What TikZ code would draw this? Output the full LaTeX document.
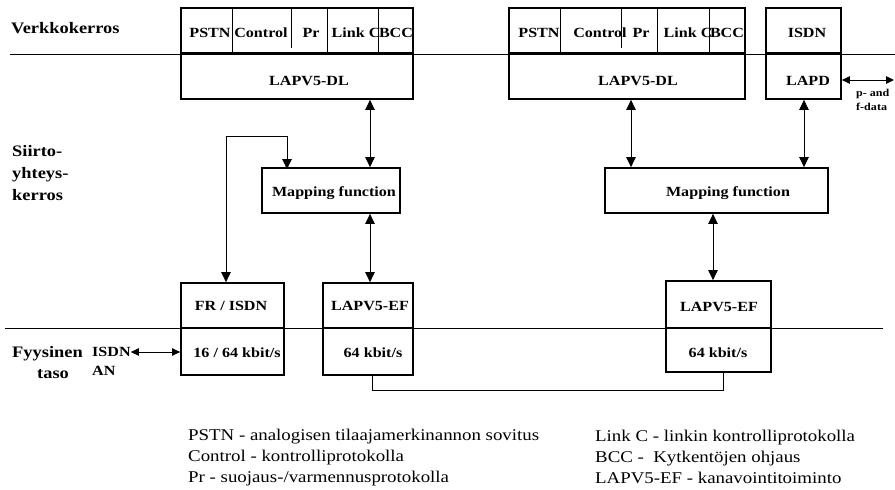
\documentclass[tikz,border=0pt]{standalone}
\usepackage{fontspec}
\setmainfont{Liberation Serif}[FakeStretch=1.15]
\usetikzlibrary{arrows.meta}
\begin{document}
\begin{tikzpicture}[x=1pt,y=-1pt,
  box/.style={draw, line width=1.8pt, inner sep=0pt, rectangle},
  lbl/.style={font=\bfseries\fontsize{14}{16}\selectfont, inner sep=0pt, anchor=base},
  side/.style={font=\bfseries\fontsize{16}{22}\selectfont, inner sep=0pt, anchor=base west},
  legend/.style={font=\fontsize{16.4}{21}\selectfont, inner sep=0pt, anchor=base west},
  dbl/.style={{Triangle[length=10pt,width=9.5pt]}-{Triangle[length=10pt,width=9.5pt]}, line width=0.9pt},
  sdbl/.style={{Triangle[length=8pt,width=7.5pt]}-{Triangle[length=8pt,width=7.5pt]}, line width=0.9pt},
  thinline/.style={line width=0.9pt}]
\useasboundingbox (0,0) rectangle (895,490);

% layer lines
\coordinate (l1a) at (10,54);
\coordinate (l1b) at (895,54);
\coordinate (l2a) at (5,328);
\coordinate (l2b) at (883,328);
\draw[thinline] (l1a) -- (l1b);
\draw[thinline] (l2a) -- (l2b);

% upper stacks
\node[box, minimum width=232pt, minimum height=45pt] (top1) at (297,30.5) {};
\node[box, minimum width=232pt, minimum height=46pt] (dl1) at (297,76) {};
\node[box, minimum width=236pt, minimum height=45pt] (top2) at (627,30.5) {};
\node[box, minimum width=236pt, minimum height=46pt] (dl2) at (627,76) {};
\node[box, minimum width=75pt, minimum height=45pt] (isdn) at (803.5,30.5) {};
\node[box, minimum width=75pt, minimum height=46pt] (lapd) at (803.5,76) {};

% cell dividers
\draw[thinline] (232,8) -- (232,53);
\draw[thinline] (291,8) -- (291,48);
\draw[thinline] (327,8) -- (327,53);
\draw[thinline] (378,8) -- (378,53);
\draw[thinline] (560,8) -- (560,53);
\draw[thinline] (621,8) -- (621,48);
\draw[thinline] (657,8) -- (657,53);
\draw[thinline] (709,8) -- (709,53);

% cell texts
\node[lbl] (c1a) at (210,37) {PSTN};
\node[lbl] (c1b) at (261,37) {Control};
\node[lbl] (c1c) at (311,37) {Pr};
\node[lbl] (c1d) at (356,37) {Link C};
\node[lbl] (c1e) at (396,37) {BCC};
\node[lbl] (c2a) at (539,37) {PSTN};
\node[lbl] (c2b) at (600,37) {Control};
\node[lbl] (c2c) at (641,37) {Pr};
\node[lbl] (c2d) at (688,37) {Link C};
\node[lbl] (c2e) at (727,37) {BCC};
\node[lbl] (c3a) at (807,37) {ISDN};
\node[lbl] (t_dl1) at (309,85) {LAPV5-DL};
\node[lbl] (t_dl2) at (638,85) {LAPV5-DL};
\node[lbl] (t_lapd) at (808,85) {LAPD};

% mapping functions
\node[box, minimum width=138pt, minimum height=45pt] (map1) at (331,190.5) {};
\node[box, minimum width=223pt, minimum height=45pt] (map2) at (716.5,190.5) {};
\node[lbl] (t_map1) at (334,196) {Mapping function};
\node[lbl] (t_map2) at (728,196) {Mapping function};

% lower stacks
\node[box, minimum width=103pt, minimum height=45pt] (fr) at (232.5,305.5) {};
\node[box, minimum width=103pt, minimum height=47pt] (frb) at (232.5,351.5) {};
\node[box, minimum width=90pt, minimum height=45pt] (ef1) at (368,305.5) {};
\node[box, minimum width=90pt, minimum height=47pt] (ef1b) at (368,351.5) {};
\node[box, minimum width=105pt, minimum height=47pt] (ef2) at (718.5,304.5) {};
\node[box, minimum width=105pt, minimum height=44pt] (ef2b) at (718.5,350) {};
\node[lbl] (t_fr) at (231,310) {FR / ISDN};
\node[lbl] (t_frb) at (237,357) {16 / 64 kbit/s};
\node[lbl] (t_ef1) at (370,310) {LAPV5-EF};
\node[lbl] (t_ef1b) at (373,357) {64 kbit/s};
\node[lbl] (t_ef2) at (719,311) {LAPV5-EF};
\node[lbl] (t_ef2b) at (718,357) {64 kbit/s};

% side labels
\node[side] (verk) at (11,33) {Verkkokerros};
\node[side] (s1) at (12,156) {Siirto-};
\node[side] (s2) at (12,178) {yhteys-};
\node[side] (s3) at (12,200) {kerros};
\node[side] (f1) at (12,357) {Fyysinen};
\node[side] (f2) at (37,378) {taso};
\node[lbl, anchor=base west] (isdnan1) at (92,356) {ISDN};
\node[lbl, anchor=base west] (isdnan2) at (92,375) {AN};
\node[font=\bfseries\fontsize{10.5}{14}\selectfont, inner sep=0pt, anchor=base west] (pf1) at (856,96) {p- and};
\node[font=\bfseries\fontsize{10.5}{14}\selectfont, inner sep=0pt, anchor=base west] (pf2) at (856,110) {f-data};

% x coordinates for connectors
\coordinate (xa) at (370,0);
\coordinate (xb) at (631,0);
\coordinate (xc) at (804,0);
\coordinate (xd) at (713,0);
\coordinate (xe) at (226,0);
\coordinate (fb) at (287,136);
\coordinate (pend) at (894,80);
\coordinate (xf) at (372,0);
\coordinate (xg) at (723,0);
\coordinate (bot) at (723,390);

% connectors
\draw[dbl] (dl1.south -| xa) -- (map1.north -| xa);
\draw[dbl] (map1.south -| xa) -- (ef1.north -| xa);
\draw[dbl] (dl2.south -| xb) -- (map2.north -| xb);
\draw[dbl] (lapd.south -| xc) -- (map2.north -| xc);
\draw[dbl] (map2.south -| xd) -- (ef2.north -| xd);
\draw[dbl] (fr.north -| xe) |- (fb) -- ([yshift=-2pt]map1.north -| fb);
\draw[sdbl] (lapd.east |- pend) -- (pend);
\draw[sdbl] (isdnan1.east |- 0,352) -- (frb.west |- 0,352);
\draw[thinline] (ef1b.south -| xf) |- (bot) -- (ef2b.south -| xg);

% legend
\node[legend] (lg1) at (188,440) {PSTN - analogisen tilaajamerkinannon sovitus};
\node[legend] (lg2) at (188,461) {Control - kontrolliprotokolla};
\node[legend] (lg3) at (188,482) {Pr - suojaus-/varmennusprotokolla};
\node[legend] (lg4) at (595,441) {Link C - linkin kontrolliprotokolla};
\node[legend] (lg5) at (595,462) {BCC -\ \ Kytkentöjen ohjaus};
\node[legend] (lg6) at (595,483) {LAPV5-EF - kanavointitoiminto};
\end{tikzpicture}
\end{document}
